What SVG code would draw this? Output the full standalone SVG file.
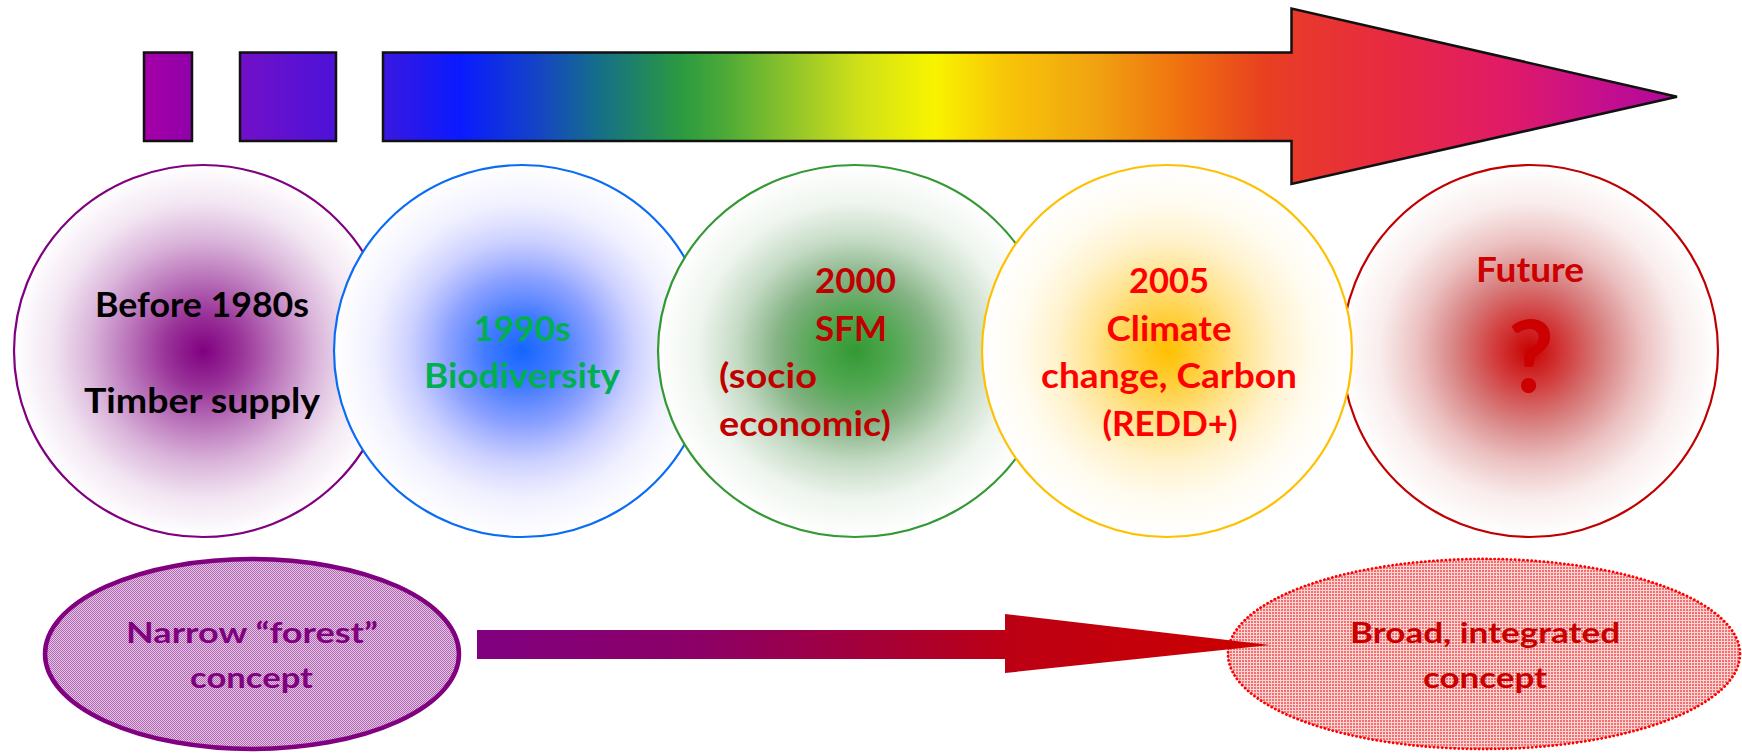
<svg xmlns="http://www.w3.org/2000/svg" width="1742" height="753" viewBox="0 0 1742 753">
  <style>
    .lbl { font-family: Lato, "Open Sans", "Liberation Sans", sans-serif; font-weight: 700; }
    .big { font-size: 34px; }
    .small { font-size: 28px; }
    .frame { stroke: #111; stroke-width: 2.5; stroke-linejoin: miter; }
    .era { stroke-width: 2.2; }
  </style>
  <defs>
    <!-- spectrum running along the timeline bar (blocks + arrow) -->
    <linearGradient id="spectrum" gradientUnits="userSpaceOnUse" x1="144" y1="0" x2="1677" y2="0">
      <stop offset="0" stop-color="#a600a8"/>
      <stop offset="0.031" stop-color="#9000aa"/>
      <stop offset="0.063" stop-color="#7210c8"/>
      <stop offset="0.125" stop-color="#4c12d8"/>
      <stop offset="0.156" stop-color="#3a18e0"/>
      <stop offset="0.206" stop-color="#0a1aff"/>
      <stop offset="0.258" stop-color="#1545c4"/>
      <stop offset="0.297" stop-color="#156f88"/>
      <stop offset="0.350" stop-color="#2a9a40"/>
      <stop offset="0.376" stop-color="#48a838"/>
      <stop offset="0.428" stop-color="#98c828"/>
      <stop offset="0.467" stop-color="#d0e018"/>
      <stop offset="0.515" stop-color="#f8f400"/>
      <stop offset="0.558" stop-color="#f8c808"/>
      <stop offset="0.624" stop-color="#f0a010"/>
      <stop offset="0.677" stop-color="#f07010"/>
      <stop offset="0.731" stop-color="#e84020"/>
      <stop offset="0.749" stop-color="#e83a2a"/>
      <stop offset="0.811" stop-color="#e82a40"/>
      <stop offset="0.891" stop-color="#e01a68"/>
      <stop offset="0.944" stop-color="#c8108a"/>
      <stop offset="1" stop-color="#b0089c"/>
    </linearGradient>

    <!-- soft centre glows for the era circles -->
    <radialGradient id="glowPurple" cx="0.5" cy="0.5" r="0.5">
      <stop offset="0" stop-color="#800080" stop-opacity="1"/>
      <stop offset="0.2" stop-color="#800080" stop-opacity="0.8"/>
      <stop offset="0.4" stop-color="#800080" stop-opacity="0.54"/>
      <stop offset="0.6" stop-color="#800080" stop-opacity="0.29"/>
      <stop offset="0.8" stop-color="#800080" stop-opacity="0.1"/>
      <stop offset="1" stop-color="#800080" stop-opacity="0"/>
    </radialGradient>
    <radialGradient id="glowBlue" cx="0.5" cy="0.5" r="0.5">
      <stop offset="0" stop-color="#1466ff" stop-opacity="1"/>
      <stop offset="0.2" stop-color="#2a6aff" stop-opacity="0.88"/>
      <stop offset="0.4" stop-color="#4a6cff" stop-opacity="0.64"/>
      <stop offset="0.6" stop-color="#6a78ff" stop-opacity="0.34"/>
      <stop offset="0.8" stop-color="#8a8cff" stop-opacity="0.12"/>
      <stop offset="1" stop-color="#8a8cff" stop-opacity="0"/>
    </radialGradient>
    <radialGradient id="glowGreen" cx="0.5" cy="0.5" r="0.5">
      <stop offset="0" stop-color="#339933" stop-opacity="1"/>
      <stop offset="0.2" stop-color="#339933" stop-opacity="0.85"/>
      <stop offset="0.4" stop-color="#2e7d2e" stop-opacity="0.58"/>
      <stop offset="0.6" stop-color="#2e7d2e" stop-opacity="0.28"/>
      <stop offset="0.8" stop-color="#2e7d2e" stop-opacity="0.08"/>
      <stop offset="1" stop-color="#2e7d2e" stop-opacity="0"/>
    </radialGradient>
    <radialGradient id="glowGold" cx="0.5" cy="0.5" r="0.5">
      <stop offset="0" stop-color="#ffc000" stop-opacity="1"/>
      <stop offset="0.2" stop-color="#ffc000" stop-opacity="0.74"/>
      <stop offset="0.4" stop-color="#ffc000" stop-opacity="0.44"/>
      <stop offset="0.6" stop-color="#ffc000" stop-opacity="0.2"/>
      <stop offset="0.8" stop-color="#ffc000" stop-opacity="0.06"/>
      <stop offset="1" stop-color="#ffc000" stop-opacity="0"/>
    </radialGradient>
    <radialGradient id="glowRed" cx="0.5" cy="0.5" r="0.5">
      <stop offset="0" stop-color="#c80000" stop-opacity="1"/>
      <stop offset="0.2" stop-color="#c81010" stop-opacity="0.8"/>
      <stop offset="0.4" stop-color="#b81a1a" stop-opacity="0.54"/>
      <stop offset="0.6" stop-color="#b81a1a" stop-opacity="0.27"/>
      <stop offset="0.8" stop-color="#b81a1a" stop-opacity="0.08"/>
      <stop offset="1" stop-color="#b81a1a" stop-opacity="0"/>
    </radialGradient>

    <!-- textured fills of the two concept ellipses -->
    <pattern id="checkPurple" width="2" height="2" patternUnits="userSpaceOnUse">
      <rect width="2" height="2" fill="#e4c4e4"/>
      <rect width="1" height="1" fill="#b068b0"/>
      <rect x="1" y="1" width="1" height="1" fill="#b068b0"/>
    </pattern>
    <pattern id="gridRed" width="3" height="3" patternUnits="userSpaceOnUse">
      <rect width="3" height="3" fill="#ffd4d4"/>
      <rect width="2" height="2" fill="#f27070"/>
    </pattern>

    <!-- lower arrow: purple to red -->
    <linearGradient id="shift" gradientUnits="userSpaceOnUse" x1="477" y1="0" x2="1270" y2="0">
      <stop offset="0" stop-color="#800080"/>
      <stop offset="0.28" stop-color="#8c0066"/>
      <stop offset="0.53" stop-color="#a80032"/>
      <stop offset="0.67" stop-color="#bc0014"/>
      <stop offset="1" stop-color="#cc0000"/>
    </linearGradient>
  </defs>

  <rect width="1742" height="753" fill="#ffffff"/>

  <!-- timeline bar: two blocks and the spectrum arrow -->
  <g id="timeline">
    <rect class="frame" x="144" y="52.5" width="48" height="88.5" fill="url(#spectrum)"/>
    <rect class="frame" x="240" y="52.5" width="96" height="88.5" fill="url(#spectrum)"/>
    <path class="frame" d="M383,52.5 H1291.5 V8.5 L1677,96.7 L1291.5,184 V141 H383 Z" fill="url(#spectrum)"/>
  </g>

  <!-- era circles -->
  <g id="era-1980s">
    <ellipse cx="203" cy="351" rx="189" ry="186" fill="#ffffff"/>
    <ellipse class="era" cx="203" cy="351" rx="189" ry="186" fill="url(#glowPurple)" stroke="#800080"/>
    <text class="lbl big" x="202" y="316.7" text-anchor="middle" fill="#000000" textLength="214" lengthAdjust="spacingAndGlyphs">Before 1980s</text>
    <text class="lbl big" x="202" y="413.3" text-anchor="middle" fill="#000000" textLength="236" lengthAdjust="spacingAndGlyphs">Timber supply</text>
  </g>

  <g id="era-1990s">
    <ellipse cx="522" cy="351" rx="188" ry="186" fill="#ffffff"/>
    <ellipse class="era" cx="522" cy="351" rx="188" ry="186" fill="url(#glowBlue)" stroke="#0a6cf5"/>
    <text class="lbl big" x="522" y="340.7" text-anchor="middle" fill="#00b050" textLength="97" lengthAdjust="spacingAndGlyphs">1990s</text>
    <text class="lbl big" x="522" y="388.3" text-anchor="middle" fill="#00b050" textLength="196" lengthAdjust="spacingAndGlyphs">Biodiversity</text>
  </g>

  <g id="era-2000">
    <ellipse cx="855" cy="351" rx="197" ry="186" fill="#ffffff"/>
    <ellipse class="era" cx="855" cy="351" rx="197" ry="186" fill="url(#glowGreen)" stroke="#339933"/>
    <text class="lbl big" x="815" y="292.7" fill="#c00000" textLength="81" lengthAdjust="spacingAndGlyphs">2000</text>
    <text class="lbl big" x="815" y="340.7" fill="#c00000" textLength="72" lengthAdjust="spacingAndGlyphs">SFM</text>
    <text class="lbl big" x="719" y="388.3" fill="#c00000" textLength="98" lengthAdjust="spacingAndGlyphs">(socio</text>
    <text class="lbl big" x="719" y="436" fill="#c00000" textLength="172" lengthAdjust="spacingAndGlyphs">economic)</text>
  </g>

  <g id="era-future">
    <ellipse cx="1530" cy="351" rx="188" ry="186" fill="#ffffff"/>
    <ellipse class="era" cx="1530" cy="351" rx="188" ry="186" fill="url(#glowRed)" stroke="#c00000"/>
    <text class="lbl big" x="1530" y="282.3" text-anchor="middle" fill="#cc0000" textLength="108" lengthAdjust="spacingAndGlyphs">Future</text>
    <text class="lbl" x="1531" y="392" text-anchor="middle" fill="#cc0000" font-size="100">?</text>
  </g>

  <g id="era-2005">
    <ellipse cx="1167" cy="351" rx="185" ry="186" fill="#ffffff"/>
    <ellipse class="era" cx="1167" cy="351" rx="185" ry="186" fill="url(#glowGold)" stroke="#ffc000"/>
    <text class="lbl big" x="1169" y="292.7" text-anchor="middle" fill="#ff0000" textLength="80" lengthAdjust="spacingAndGlyphs">2005</text>
    <text class="lbl big" x="1169" y="340.7" text-anchor="middle" fill="#ff0000" textLength="125" lengthAdjust="spacingAndGlyphs">Climate</text>
    <text class="lbl big" x="1169" y="388.3" text-anchor="middle" fill="#ff0000" textLength="256" lengthAdjust="spacingAndGlyphs">change, Carbon</text>
    <text class="lbl big" x="1170" y="436" text-anchor="middle" fill="#ff0000" textLength="135" lengthAdjust="spacingAndGlyphs">(REDD+)</text>
  </g>

  <!-- concept ellipses -->
  <g id="concept-narrow">
    <ellipse cx="252" cy="654" rx="207" ry="95" fill="url(#checkPurple)" stroke="#800080" stroke-width="4.5"/>
    <text class="lbl small" x="252" y="643.3" text-anchor="middle" fill="#800080" textLength="252" lengthAdjust="spacingAndGlyphs">Narrow “forest”</text>
    <text class="lbl small" x="251.5" y="688.3" text-anchor="middle" fill="#800080" textLength="123" lengthAdjust="spacingAndGlyphs">concept</text>
  </g>

  <g id="concept-broad">
    <ellipse cx="1484" cy="654" rx="256" ry="95" fill="url(#gridRed)" stroke="#ff0000" stroke-width="2.8" stroke-linecap="round" stroke-dasharray="0.1 4"/>
    <text class="lbl small" x="1485" y="643.3" text-anchor="middle" fill="#c80000" textLength="270" lengthAdjust="spacingAndGlyphs">Broad, integrated</text>
    <text class="lbl small" x="1485" y="688.3" text-anchor="middle" fill="#c80000" textLength="124" lengthAdjust="spacingAndGlyphs">concept</text>
  </g>

  <!-- connector: narrow concept towards broad concept -->
  <g id="connectors">
    <path d="M477,630 H1005 V614 L1270,645 L1005,673 V659 H477 Z" fill="url(#shift)"/>
  </g>
</svg>
